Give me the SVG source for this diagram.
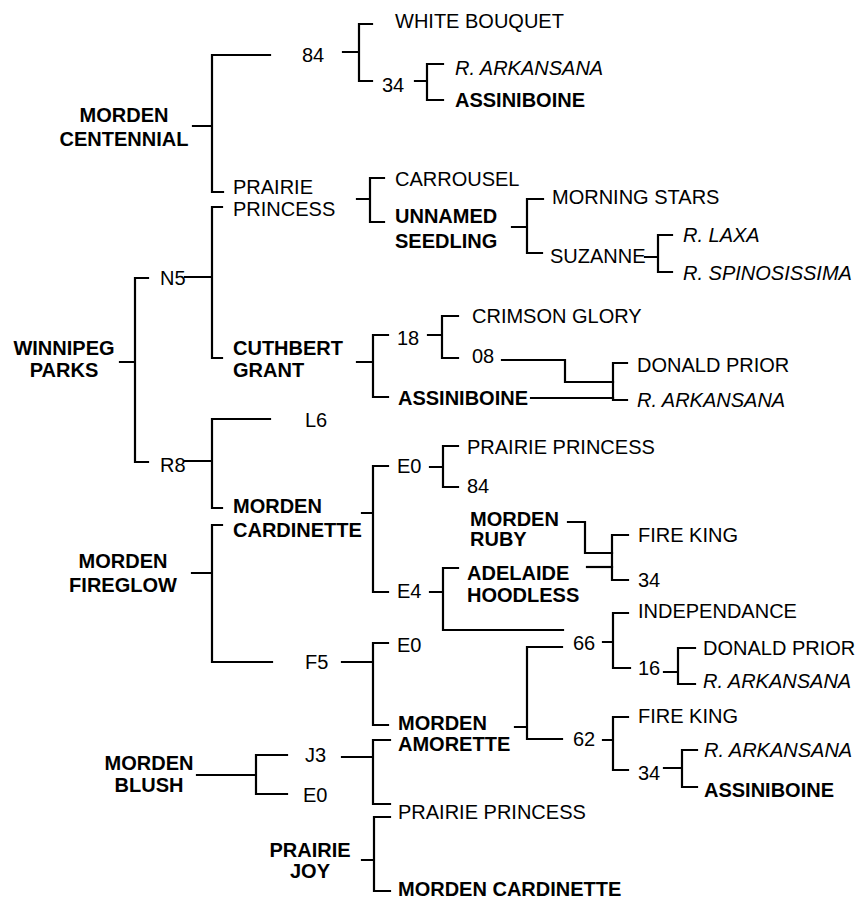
<svg xmlns="http://www.w3.org/2000/svg" width="863" height="901" viewBox="0 0 863 901">
<style>
text{font-family:"Liberation Sans",Arial,sans-serif;font-size:20px;fill:#000}
.b{font-weight:bold}
.i{font-style:italic}
.m{text-anchor:middle}
.c path{stroke:#000;stroke-width:2.2;fill:none;stroke-linecap:square}
</style>
<rect width="863" height="901" fill="#fff"/>
<g class="c" id="connectors">
<path d="M193,126H212M270,55H212V192H223"/>
<path d="M343,52H359M372,24H359V81H372"/>
<path d="M415,81H427M443,64H427V100H443"/>
<path d="M357,199H370M384,178H370V222H384"/>
<path d="M512,227H527M543,199H527V253H542"/>
<path d="M645,257H658M672,235H658V272H672"/>
<path d="M185,277H212M222,207H212V358H222"/>
<path d="M120,362H135M148,278H135V462H148"/>
<path d="M357,362H373M388,335H373V397H388"/>
<path d="M428,335H442M458,316H442V358H458"/>
<path d="M502,360H565V382H613"/>
<path d="M531,398H613"/>
<path d="M627,363H613V400H627"/>
<path d="M185,461H212M270,419H212V508H222"/>
<path d="M192,573H212M222,525H212V662H272"/>
<path d="M362,513H373M388,466H373V592H388"/>
<path d="M430,467H443M458,446H443V487H458"/>
<path d="M430,592H443M458,568H443V630H563"/>
<path d="M568,522H585V553H612"/>
<path d="M587,567H612"/>
<path d="M628,535H612V580H628"/>
<path d="M342,662H373M388,643H373V725H388"/>
<path d="M515,727H527M562,647H527V739H562"/>
<path d="M603,642H613M628,613H613V668H630"/>
<path d="M664,672H678M695,648H678V684H695"/>
<path d="M603,740H613M628,717H613V770H628"/>
<path d="M664,768H682M697,750H682V787H697"/>
<path d="M197,775H256M287,755H256V794H287"/>
<path d="M342,757H373M390,740H373V804H390"/>
<path d="M362,860H374M390,817H374V891H390"/>
</g>
<g id="morden-centennial"><text class="b m" x="124" y="122">MORDEN</text><text class="b m" x="124" y="146">CENTENNIAL</text></g>
<g id="n84a"><text x="302" y="62">84</text></g>
<g id="white-bouquet"><text x="395" y="28">WHITE BOUQUET</text></g>
<g id="n34a"><text x="382" y="92">34</text></g>
<g id="arkansana1"><text class="i" x="455" y="75">R. ARKANSANA</text></g>
<g id="assiniboine1"><text class="b" x="455" y="107">ASSINIBOINE</text></g>
<g id="prairie-princess1"><text x="233" y="194">PRAIRIE</text><text x="233" y="216">PRINCESS</text></g>
<g id="carrousel"><text x="395" y="186">CARROUSEL</text></g>
<g id="unnamed-seedling"><text class="b" x="395" y="223">UNNAMED</text><text class="b" x="395" y="248">SEEDLING</text></g>
<g id="morning-stars"><text x="552" y="204">MORNING STARS</text></g>
<g id="suzanne"><text x="550" y="263">SUZANNE</text></g>
<g id="laxa"><text class="i" x="683" y="242">R. LAXA</text></g>
<g id="spinosissima"><text class="i" x="683" y="280">R. SPINOSISSIMA</text></g>
<g id="winnipeg-parks"><text class="b m" x="64" y="355">WINNIPEG</text><text class="b m" x="64" y="377">PARKS</text></g>
<g id="n5"><text x="160" y="285">N5</text></g>
<g id="cuthbert-grant"><text class="b" x="233" y="355">CUTHBERT</text><text class="b" x="233" y="377">GRANT</text></g>
<g id="n18"><text x="397" y="345">18</text></g>
<g id="crimson-glory"><text x="472" y="323">CRIMSON GLORY</text></g>
<g id="n08"><text x="472" y="363">08</text></g>
<g id="assiniboine2"><text class="b" x="398" y="405">ASSINIBOINE</text></g>
<g id="donald-prior1"><text x="637" y="372">DONALD PRIOR</text></g>
<g id="arkansana2"><text class="i" x="637" y="407">R. ARKANSANA</text></g>
<g id="l6"><text x="305" y="427">L6</text></g>
<g id="r8"><text x="160" y="472">R8</text></g>
<g id="morden-cardinette1"><text class="b" x="233" y="513">MORDEN</text><text class="b" x="233" y="537">CARDINETTE</text></g>
<g id="e0a"><text x="397" y="473">E0</text></g>
<g id="prairie-princess2"><text x="467" y="454">PRAIRIE PRINCESS</text></g>
<g id="n84b"><text x="467" y="493">84</text></g>
<g id="morden-ruby"><text class="b" x="470" y="526">MORDEN</text><text class="b" x="470" y="546">RUBY</text></g>
<g id="fire-king1"><text x="638" y="542">FIRE KING</text></g>
<g id="n34b"><text x="638" y="587">34</text></g>
<g id="e4"><text x="397" y="598">E4</text></g>
<g id="adelaide-hoodless"><text class="b" x="467" y="580">ADELAIDE</text><text class="b" x="467" y="602">HOODLESS</text></g>
<g id="morden-fireglow"><text class="b m" x="123" y="568">MORDEN</text><text class="b m" x="123" y="592">FIREGLOW</text></g>
<g id="independance"><text x="638" y="618">INDEPENDANCE</text></g>
<g id="n66"><text x="573" y="650">66</text></g>
<g id="e0b"><text x="397" y="652">E0</text></g>
<g id="donald-prior2"><text x="703" y="655">DONALD PRIOR</text></g>
<g id="f5"><text x="305" y="669">F5</text></g>
<g id="n16"><text x="638" y="675">16</text></g>
<g id="arkansana3"><text class="i" x="703" y="688">R. ARKANSANA</text></g>
<g id="fire-king2"><text x="638" y="723">FIRE KING</text></g>
<g id="morden-amorette"><text class="b" x="398" y="730">MORDEN</text><text class="b" x="398" y="751">AMORETTE</text></g>
<g id="n62"><text x="573" y="746">62</text></g>
<g id="arkansana4"><text class="i" x="704" y="757">R. ARKANSANA</text></g>
<g id="n34c"><text x="638" y="780">34</text></g>
<g id="assiniboine3"><text class="b" x="704" y="797">ASSINIBOINE</text></g>
<g id="morden-blush"><text class="b m" x="149" y="770">MORDEN</text><text class="b m" x="149" y="792">BLUSH</text></g>
<g id="j3"><text x="305" y="762">J3</text></g>
<g id="e0c"><text x="303" y="802">E0</text></g>
<g id="prairie-princess3"><text x="398" y="819">PRAIRIE PRINCESS</text></g>
<g id="prairie-joy"><text class="b m" x="310" y="857">PRAIRIE</text><text class="b m" x="310" y="878">JOY</text></g>
<g id="morden-cardinette2"><text class="b" x="398" y="896">MORDEN CARDINETTE</text></g>
</svg>
